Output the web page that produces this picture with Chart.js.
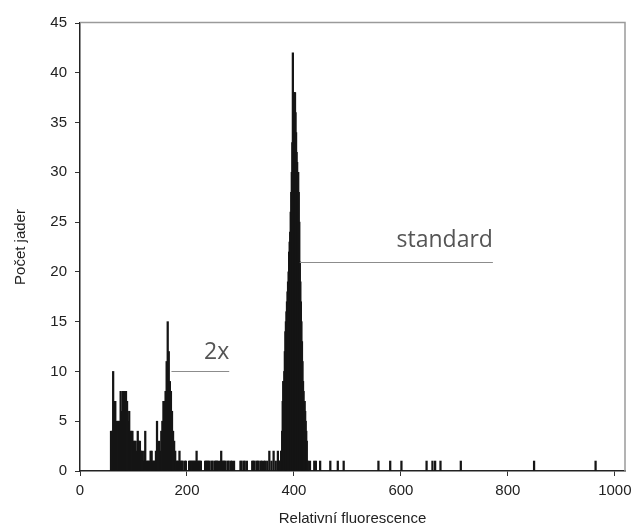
<!DOCTYPE html>
<html><head><meta charset="utf-8">
<script src="https://cdn.jsdelivr.net/npm/chart.js@4"></script>
<style>html,body{margin:0;padding:0;background:#fff}#wrap{width:633px;height:530px}</style>
</head><body><div id="wrap"><canvas id="c" width="633" height="530"></canvas></div>
<script>
// ---- data (channel -> nuclei count) ----
const channelsLow = [58,60,62,64,66,68,70,72,74,76,78,80,82,84,86,88,90,92,94,96,98,100,102,104,106,108,110,112,114,116,118,120,122,124,126,128,130,132,134,136,138,140,142,144,146,148,150,152,154,156,158,160,162,164,166,168,170,172,174,176,178,180,182,184,186];
const countsLow   = [4,4,10,7,7,5,5,5,5,8,6,8,8,8,8,7,5,6,4,4,4,3,3,3,2,4,3,3,2,2,1,2,4,1,1,1,1,2,2,1,1,1,2,5,2,3,2,4,5,7,7,8,11,15,12,9,8,6,4,3,2,1,1,1,2];
const channelsMid = [188,190,192,196,198,204,206,208,210,212,214,216,218,220,222,224,226,234,236,238,240,242,246,248,252,254,256,258,262,264,266,268,270,272,276,278,282,284,288,300,302,306,308,312,322,324,326,330,332,334,338,340,344,346,350,354,358,362,366,370,372,374,376];
const countsMid   = [1,1,1,1,1,1,1,1,1,1,1,1,2,1,1,1,1,1,1,1,1,1,1,1,1,1,1,1,1,2,1,1,1,1,1,1,1,1,1,1,1,1,1,1,1,1,1,1,1,1,1,1,1,1,1,2,1,2,1,2,1,1,2];
const channelsPeak = [377,378,379,380,381,382,383,384,385,386,387,388,389,390,391,392,393,394,395,396,397,398,399,400,401,402,403,404,405,406,407,408,409,410,411,412,413,414,415,416,417,418,419,420,421,422,423,424,425,426];
const countsPeak   = [2,4,7,9,9,10,12,14,15,16,17,18,19,20,22,23,24,26,28,30,33,42,37,38,38,38,36,34,32,31,30,30,28,25,21,19,17,15,13,11,9,8,7,7,6,5,4,3,1,1];
const channelsHigh = [430,438,441,449,468,482,493,558,580,601,648,659,664,674,712,849,964];
const countsHigh   = [1,1,1,1,1,1,1,1,1,1,1,1,1,1,1,1,1];

const xTickLabels = [0,200,400,600,800,1000];
const yTickLabels = [0,5,10,15,20,25,30,35,40,45];
const xTitle = 'Relativní fluorescence';
const yTitle = 'Počet jader';

// annotations: label, line from/to (x), line level (y), text baseline (y)
const annoLabels   = ['2x','standard'];
const annoLineFrom = [171, 411];
const annoLineTo   = [279, 772];
const annoLineAt   = [10, 21];
const annoTextAt   = [11.2, 22.5];

const channels = [].concat(channelsLow, channelsMid, channelsPeak, channelsHigh);
const counts = [].concat(countsLow, countsMid, countsPeak, countsHigh);
const points = channels.map((c,i)=>({x:c, y:counts[i]}));

const tickFont = {family:'"Liberation Sans", Arial, sans-serif', size:15};

const annoPlugin = {
  id:'anno',
  afterDatasetsDraw(chart){
    const {ctx, scales:{x,y}, chartArea:a} = chart;
    ctx.save();
    ctx.strokeStyle='#9a9a9a'; ctx.lineWidth=1.5;
    ctx.beginPath(); ctx.moveTo(a.left, a.top-0.5); ctx.lineTo(a.right, a.top-0.5); ctx.lineTo(a.right, a.bottom); ctx.stroke();
    annoLabels.forEach((t,i)=>{
      const x0=x.getPixelForValue(annoLineFrom[i]), x1=x.getPixelForValue(annoLineTo[i]);
      const yy=Math.round(y.getPixelForValue(annoLineAt[i]))+0.5;
      ctx.strokeStyle='#8c8c8c'; ctx.lineWidth=1.2;
      ctx.beginPath(); ctx.moveTo(x0,yy); ctx.lineTo(x1,yy); ctx.stroke();
      ctx.font='23px "Open Sans", sans-serif'; ctx.fillStyle='#555'; ctx.textAlign='right'; ctx.textBaseline='alphabetic';
      ctx.fillText(t, x1, y.getPixelForValue(annoTextAt[i]));
    });
    ctx.restore();
  }
};

new Chart(document.getElementById('c'), {
  type:'bar',
  data:{datasets:[{data:points, backgroundColor:'#151515', borderWidth:0, barThickness:1.6, barPercentage:1, categoryPercentage:1}]},
  options:{
    responsive:false, animation:false, devicePixelRatio:1,
    layout:{padding:{top:23, right:8, left:0, bottom:0}},
    plugins:{legend:{display:false}, tooltip:{enabled:false}},
    scales:{
      x:{type:'linear', min:0, max:1019, offset:false,
        afterBuildTicks:s=>{s.ticks = xTickLabels.map(v=>({value:v}));},
        afterFit:s=>{s.height=59; s.paddingLeft=0; s.paddingRight=0;},
        ticks:{font:tickFont, color:'#222', padding:6, maxRotation:0, includeBounds:false, callback:v=>String(v)},
        grid:{display:true, drawOnChartArea:false, offset:false, tickLength:5, color:'#333', tickColor:'#333'},
        border:{display:true, color:'#222', width:1.5},
        title:{display:true, text:xTitle, font:tickFont, color:'#222', padding:{top:0,bottom:2}}
      },
      y:{type:'linear', min:0, max:45,
        afterBuildTicks:s=>{s.ticks = yTickLabels.map(v=>({value:v}));},
        afterFit:s=>{s.width=80; s.paddingTop=0; s.paddingBottom=0;},
        ticks:{font:tickFont, color:'#222', padding:8},
        grid:{display:true, drawOnChartArea:false, tickLength:5, color:'#333', tickColor:'#333'},
        border:{display:true, color:'#222', width:1.5},
        title:{display:true, text:yTitle, font:tickFont, color:'#222', padding:{top:12,bottom:0}}
      }
    }
  },
  plugins:[annoPlugin]
});
</script>
</body></html>
